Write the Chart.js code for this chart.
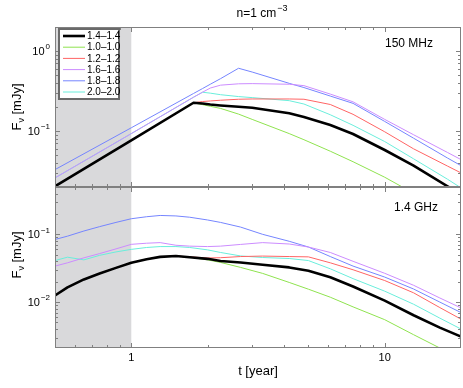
<!DOCTYPE html>
<html>
<head>
<meta charset="utf-8">
<script src="https://cdn.jsdelivr.net/npm/chart.js@4.4.1/dist/chart.umd.min.js"></script>
<style>
  html, body { margin: 0; padding: 0; background: #fff; }
  #wrap { position: relative; width: 463px; height: 388px; }
  canvas { position: absolute; left: 0; top: 0; }
</style>
</head>
<body>
<div id="wrap">
  <canvas id="cvTop" width="463" height="388"></canvas>
  <canvas id="cvBot" width="463" height="388"></canvas>
</div>
<script>
// ---- data (t in years, F in mJy) ----
const labels = ['1.4\u20131.4', '1.0\u20131.0', '1.2\u20131.2', '1.6\u20131.6', '1.8\u20131.8', '2.0\u20132.0'];
const colors = ['#000000', '#8fe34f', '#ff6464', '#cc8cff', '#7585ff', '#6aeedc'];
const widths = [2.6, 1, 1, 1, 1, 1];

// 150 MHz panel
const tTop  = [0.5, 1, 1.76, 1.91, 2.05, 2.25, 2.65, 3.0, 4.2, 4.8, 6.1, 7.5, 10, 13, 17.7, 20];
const top14 = [0.0204, 0.0765, 0.226, 0.221, 0.215, 0.209, 0.201, 0.196, 0.167, 0.150, 0.119, 0.092, 0.058, 0.037, 0.0204, 0.0163];
const top10 = [0.0204, 0.0765, 0.226, 0.214, 0.204, 0.192, 0.163, 0.140, 0.093, 0.078, 0.056, 0.0414, 0.0265, 0.0167, 0.0095, 0.0078];
const top12 = [0.0204, 0.0765, 0.226, 0.234, 0.238, 0.243, 0.250, 0.252, 0.252, 0.250, 0.215, 0.162, 0.098, 0.060, 0.0365, 0.030];
const top16 = [0.026, 0.093, 0.265, 0.306, 0.345, 0.375, 0.390, 0.392, 0.385, 0.370, 0.290, 0.232, 0.140, 0.090, 0.054, 0.044];
const top18 = [0.033, 0.110, 0.295, 0.340, 0.385, 0.452, 0.610, 0.547, 0.395, 0.350, 0.274, 0.222, 0.132, 0.0815, 0.046, 0.037];
const top20 = [0.026, 0.093, 0.265, 0.306, 0.298, 0.285, 0.270, 0.262, 0.240, 0.218, 0.160, 0.118, 0.074, 0.045, 0.025, 0.0195];

// 1.4 GHz panel
const tBot  = [0.5, 0.56, 0.65, 0.75, 0.87, 1, 1.15, 1.3, 1.5, 1.7, 2.0, 2.25, 2.7, 3.3, 4.2, 5.0, 6.1, 7.5, 10, 13, 16.5, 20];
const bot14 = [0.0125, 0.0165, 0.0216, 0.0265, 0.032, 0.038, 0.043, 0.0465, 0.0478, 0.046, 0.0435, 0.0405, 0.0385, 0.0355, 0.0325, 0.029, 0.0232, 0.017, 0.0105, 0.0064, 0.0042, 0.0031];
const bot10 = [0.0125, 0.0165, 0.0216, 0.0265, 0.032, 0.038, 0.043, 0.0465, 0.0478, 0.046, 0.042, 0.0385, 0.0325, 0.0265, 0.0195, 0.0155, 0.0118, 0.0085, 0.0055, 0.0033, 0.0021, 0.0015];
const bot12 = [0.0125, 0.0165, 0.0216, 0.0265, 0.032, 0.038, 0.043, 0.0465, 0.0478, 0.0465, 0.0448, 0.0452, 0.047, 0.0478, 0.047, 0.0465, 0.038, 0.030, 0.0208, 0.0137, 0.0083, 0.0056];
const bot16 = [0.034, 0.038, 0.045, 0.052, 0.061, 0.0712, 0.074, 0.0755, 0.069, 0.067, 0.066, 0.067, 0.071, 0.0755, 0.072, 0.065, 0.054, 0.040, 0.0266, 0.0177, 0.0115, 0.0082];
const bot18 = [0.084, 0.094, 0.112, 0.130, 0.150, 0.170, 0.182, 0.190, 0.187, 0.179, 0.163, 0.150, 0.128, 0.100, 0.079, 0.065, 0.047, 0.034, 0.0234, 0.0156, 0.010, 0.007];
const bot20 = [0.041, 0.046, 0.042, 0.049, 0.055, 0.060, 0.064, 0.066, 0.066, 0.064, 0.059, 0.054, 0.048, 0.0455, 0.044, 0.041, 0.031, 0.0222, 0.0145, 0.0093, 0.0058, 0.004];

const xMajor = [1, 10];
const xTickLabels = ['1', '10'];
const topMajor = [1, 0.1];
const botMajor = [0.1, 0.01];
const shadeEnd = 1;   // grey band covers t < 1 yr

const FONT = '"Liberation Sans", Arial, Helvetica, sans-serif';
const FRAME = '#808080';

function series(ts, ys) {
  return ts.map((t, i) => ({ x: t, y: ys[i] }));
}

function makeSets(ts, list) {
  return list.map((ys, i) => ({
    label: labels[i],
    data: series(ts, ys),
    borderColor: colors[i],
    backgroundColor: colors[i],
    borderWidth: widths[i],
    pointRadius: 0,
    tension: 0,
    borderJoinStyle: 'round',
    fill: false
  }));
}

// superscript text helper
function supText(ctx, base, sup, x, y, size, align) {
  ctx.font = size + 'px ' + FONT;
  const w1 = ctx.measureText(base).width;
  const ss = Math.round(size * 0.72);
  ctx.font = ss + 'px ' + FONT;
  const w2 = ctx.measureText(sup).width;
  let x0 = x;
  if (align === 'right') x0 = x - w1 - w2 - 1;
  if (align === 'center') x0 = x - (w1 + w2 + 1) / 2;
  ctx.textAlign = 'left';
  ctx.textBaseline = 'middle';
  ctx.font = size + 'px ' + FONT;
  ctx.fillText(base, x0, y);
  ctx.font = ss + 'px ' + FONT;
  ctx.fillText(sup, x0 + w1 + 1, y - size * 0.45);
}

function logMinors(min, max) {
  const out = [];
  for (let e = Math.floor(Math.log10(min)); e <= Math.ceil(Math.log10(max)); e++) {
    for (let m = 1; m <= 9; m++) {
      const v = m * Math.pow(10, e);
      if (v > min * 1.0001 && v < max * 0.9999) out.push({ v: v, major: m === 1 });
    }
  }
  return out;
}

// y-axis label with subscript nu
function yLabel(ctx, cx, cy) {
  ctx.save();
  ctx.translate(cx, cy);
  ctx.rotate(-Math.PI / 2);
  ctx.fillStyle = '#000';
  ctx.textBaseline = 'middle';
  ctx.textAlign = 'left';
  ctx.font = '13px ' + FONT;
  const wF = ctx.measureText('F').width;
  const wR = ctx.measureText(' [mJy]').width;
  ctx.font = '9px ' + FONT;
  const wN = ctx.measureText('\u03bd').width;
  let x0 = -(wF + wN + wR) / 2;
  ctx.font = '13px ' + FONT;
  ctx.fillText('F', x0, 0);
  ctx.font = '9px ' + FONT;
  ctx.fillText('\u03bd', x0 + wF, 5);
  ctx.font = '13px ' + FONT;
  ctx.fillText(' [mJy]', x0 + wF + wN, 0);
  ctx.restore();
}

const panelPlugin = {
  id: 'panel',
  beforeDatasetsDraw(chart) {
    const { ctx, chartArea: a, scales: { x } } = chart;
    ctx.save();
    ctx.fillStyle = '#d9d9db';
    const x1 = x.getPixelForValue(shadeEnd);
    ctx.fillRect(a.left, a.top, x1 - a.left, a.bottom - a.top);
    ctx.restore();
  },
  afterDatasetsDraw(chart) {
    const { ctx, chartArea: a, scales: { x, y } } = chart;
    ctx.save();
    ctx.strokeStyle = FRAME;
    ctx.lineWidth = 1;
    ctx.beginPath();
    // x ticks, top and bottom, pointing inward
    logMinors(x.min, x.max).forEach(t => {
      const px = Math.round(x.getPixelForValue(t.v)) + 0.5;
      const len = t.major ? 5 : 3;
      ctx.moveTo(px, a.bottom); ctx.lineTo(px, a.bottom - len);
      ctx.moveTo(px, a.top); ctx.lineTo(px, a.top + len);
    });
    // y ticks, left and right
    logMinors(y.min, y.max).forEach(t => {
      const py = Math.round(y.getPixelForValue(t.v)) + 0.5;
      const len = t.major ? 5 : 3;
      ctx.moveTo(a.left, py); ctx.lineTo(a.left + len, py);
      ctx.moveTo(a.right, py); ctx.lineTo(a.right - len, py);
    });
    ctx.stroke();
    ctx.strokeRect(a.left + 0.5, a.top + 0.5, a.right - a.left - 1, a.bottom - a.top - 1);
    ctx.restore();
  },
  afterDraw(chart) {
    const { ctx, chartArea: a, scales: { x, y } } = chart;
    const opt = chart.options.plugins.panel;
    ctx.save();
    ctx.fillStyle = '#000';
    // y tick labels 10^n
    opt.major.forEach(v => {
      const e = Math.round(Math.log10(v));
      supText(ctx, '10', e < 0 ? '\u2212' + (-e) : String(e), a.left - 5, y.getPixelForValue(v) + 1, 11, 'right');
    });
    yLabel(ctx, 17, opt.labelY);
    ctx.font = '12px ' + FONT;
    ctx.textAlign = 'right';
    ctx.textBaseline = 'middle';
    ctx.fillText(opt.band, opt.bandX, opt.bandY);
    if (opt.bottom) {
      ctx.font = '11px ' + FONT;
      ctx.textAlign = 'center';
      xMajor.forEach((v, i) => ctx.fillText(xTickLabels[i], x.getPixelForValue(v), a.bottom + 10));
      ctx.font = '13px ' + FONT;
      ctx.fillText('t [year]', (a.left + a.right) / 2, a.bottom + 23);
    } else {
      supText(ctx, 'n=1 cm', '\u22123', 262, 14, 12, 'center');
      // legend box
      const bx = 59, by = 29, bw = 60, bh = 70;
      ctx.fillStyle = '#fff';
      ctx.fillRect(bx, by, bw, bh);
      ctx.strokeStyle = '#6a6a6a';
      ctx.lineWidth = 2;
      ctx.strokeRect(bx, by, bw, bh);
      ctx.font = '10px ' + FONT;
      ctx.textAlign = 'left';
      ctx.textBaseline = 'middle';
      chart.data.datasets.forEach((ds, i) => {
        const ry = by + 7 + i * 11.2;
        ctx.strokeStyle = ds.borderColor;
        ctx.lineWidth = ds.borderWidth;
        ctx.beginPath();
        ctx.moveTo(bx + 4, ry); ctx.lineTo(bx + 26, ry);
        ctx.stroke();
        ctx.fillStyle = '#000';
        ctx.fillText(ds.label, bx + 28, ry + 0.5);
      });
    }
    ctx.restore();
  }
};

function makeChart(id, ts, list, yMin, yMax, pad, panelOpts) {
  return new Chart(document.getElementById(id), {
    type: 'line',
    data: { datasets: makeSets(ts, list) },
    options: {
      responsive: false,
      animation: false,
      devicePixelRatio: 1,
      layout: { padding: pad },
      scales: {
        x: { type: 'logarithmic', min: 0.5, max: 20, display: false },
        y: { type: 'logarithmic', min: yMin, max: yMax, display: false }
      },
      plugins: {
        legend: { display: false },
        tooltip: { enabled: false },
        panel: panelOpts
      }
    },
    plugins: [panelPlugin]
  });
}

makeChart('cvTop', tTop, [top14, top10, top12, top16, top18, top20], 0.02, 2,
  { top: 27, bottom: 201, left: 55, right: 2 },
  { major: topMajor, labelY: 107, band: '150 MHz', bandX: 433, bandY: 44, bottom: false });

makeChart('cvBot', tBot, [bot14, bot10, bot12, bot16, bot18, bot20], 0.0021, 0.5,
  { top: 187, bottom: 40, left: 55, right: 2 },
  { major: botMajor, labelY: 255, band: '1.4 GHz', bandX: 438, bandY: 208, bottom: true });
</script>
</body>
</html>
